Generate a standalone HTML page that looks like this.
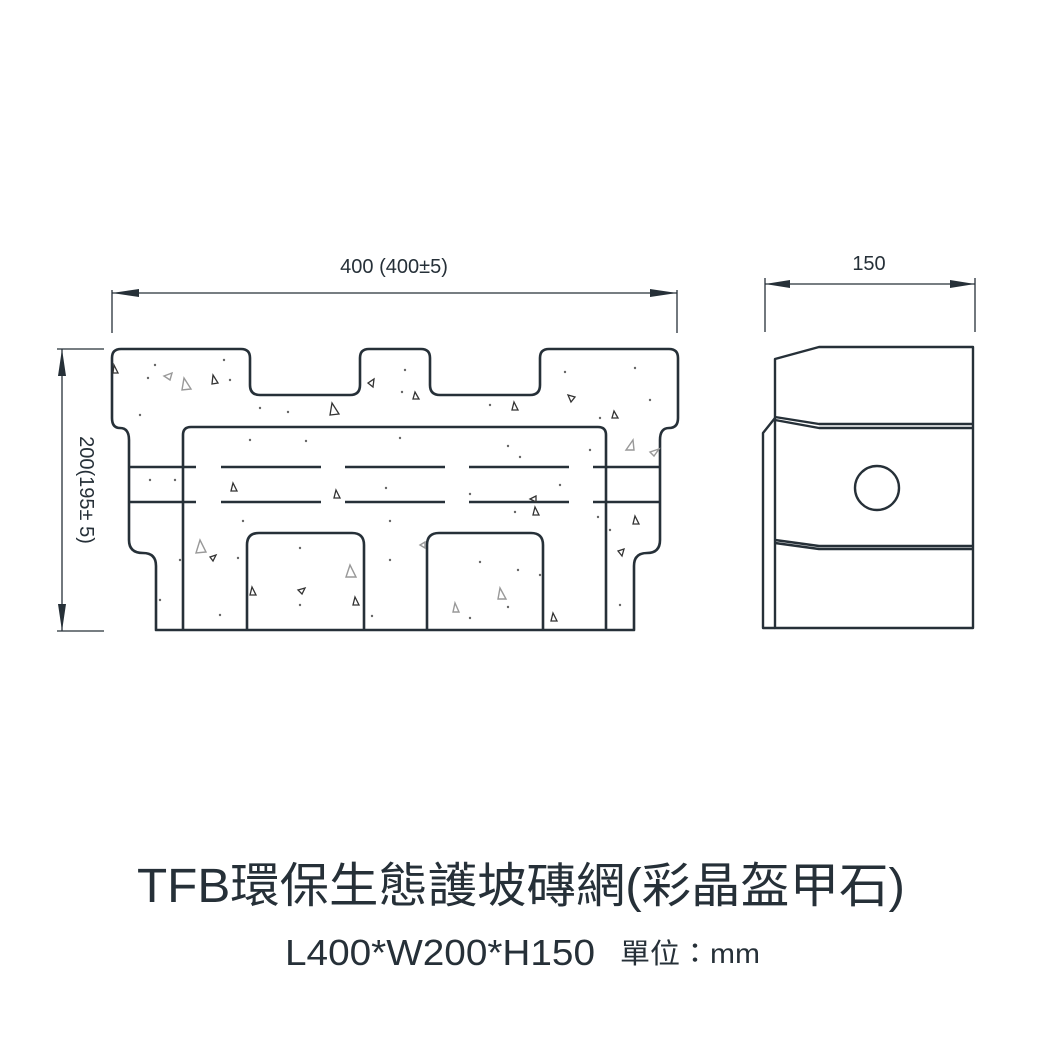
<!DOCTYPE html>
<html><head><meta charset="utf-8"><style>
html,body{margin:0;padding:0;background:#fff;}
svg{display:block}
</style></head><body>
<svg width="1042" height="1042" viewBox="0 0 1042 1042" xmlns="http://www.w3.org/2000/svg">
<g stroke="#263038" fill="none">
<line x1="112" y1="290" x2="112" y2="333" stroke-width="1.3"/>
<line x1="677" y1="290" x2="677" y2="333" stroke-width="1.3"/>
<line x1="112" y1="293" x2="677" y2="293" stroke-width="1.3"/>
<line x1="765" y1="278" x2="765" y2="332" stroke-width="1.3"/>
<line x1="975" y1="278" x2="975" y2="332" stroke-width="1.3"/>
<line x1="765" y1="284" x2="975" y2="284" stroke-width="1.3"/>
<line x1="57" y1="349" x2="104" y2="349" stroke-width="1.3"/>
<line x1="57" y1="631" x2="104" y2="631" stroke-width="1.3"/>
<line x1="62" y1="349" x2="62" y2="631" stroke-width="1.3"/>
</g>
<g fill="#263038">
<polygon points="112,293 139,289 139,297"/>
<polygon points="677,293 650,289 650,297"/>
<polygon points="765,284 790,280 790,288"/>
<polygon points="975,284 950,280 950,288"/>
<polygon points="62,349 58,376 66,376"/>
<polygon points="62,631 58,604 66,604"/>
</g>
<g font-family="Liberation Sans, sans-serif" fill="#263038" font-size="20">
<text x="394" y="273" text-anchor="middle">400 (400±5)</text>
<text x="869" y="270" text-anchor="middle">150</text>
<text transform="translate(80,490) rotate(90)" text-anchor="middle">200(195± 5)</text>
</g>
<g stroke="#263038" stroke-width="2.6" fill="none" stroke-linejoin="round">
<path d="M156,630 L156,566 Q156,553 143,553 Q129,553 129,540 L129,440 Q129,428 120,428 Q112,428 112,418 L112,358 Q112,349 121,349 L241,349 Q250,349 250,358 L250,385 Q250,395 260,395 L350,395 Q360,395 360,385 L360,358 Q360,349 369,349 L421,349 Q430,349 430,358 L430,385 Q430,395 440,395 L530,395 Q540,395 540,385 L540,358 Q540,349 549,349 L669,349 Q678,349 678,358 L678,418 Q678,428 669,428 Q660,428 660,440 L660,540 Q660,553 647,553 Q634,553 634,566 L634,630 Z"/>
<path d="M183,630 L183,435 Q183,427 191,427 L598,427 Q606,427 606,435 L606,630"/>
<path d="M247,630 L247,545 Q247,533 259,533 L352,533 Q364,533 364,545 L364,630"/>
<path d="M427,630 L427,545 Q427,533 439,533 L531,533 Q543,533 543,545 L543,630"/>
</g>
<g stroke="#263038" stroke-width="2.4">
<line x1="129" y1="467" x2="196" y2="467"/><line x1="221" y1="467" x2="321" y2="467"/><line x1="345" y1="467" x2="445" y2="467"/><line x1="469" y1="467" x2="569" y2="467"/><line x1="593" y1="467" x2="660" y2="467"/>
<line x1="129" y1="502" x2="196" y2="502"/><line x1="221" y1="502" x2="321" y2="502"/><line x1="345" y1="502" x2="445" y2="502"/><line x1="469" y1="502" x2="569" y2="502"/><line x1="593" y1="502" x2="660" y2="502"/>
</g>
<g fill="#666">
<circle cx="155" cy="365" r="1.2"/><circle cx="148" cy="378" r="1.2"/><circle cx="230" cy="380" r="1.2"/><circle cx="140" cy="415" r="1.2"/><circle cx="224" cy="360" r="1.2"/><circle cx="260" cy="408" r="1.2"/><circle cx="288" cy="412" r="1.2"/><circle cx="405" cy="370" r="1.2"/><circle cx="402" cy="392" r="1.2"/><circle cx="490" cy="405" r="1.2"/><circle cx="565" cy="372" r="1.2"/><circle cx="635" cy="368" r="1.2"/><circle cx="650" cy="400" r="1.2"/><circle cx="600" cy="418" r="1.2"/><circle cx="250" cy="440" r="1.2"/><circle cx="306" cy="441" r="1.2"/><circle cx="400" cy="438" r="1.2"/><circle cx="508" cy="446" r="1.2"/><circle cx="520" cy="457" r="1.2"/><circle cx="150" cy="480" r="1.2"/><circle cx="175" cy="480" r="1.2"/><circle cx="386" cy="488" r="1.2"/><circle cx="470" cy="494" r="1.2"/><circle cx="515" cy="512" r="1.2"/><circle cx="243" cy="521" r="1.2"/><circle cx="390" cy="521" r="1.2"/><circle cx="598" cy="517" r="1.2"/><circle cx="610" cy="530" r="1.2"/><circle cx="180" cy="560" r="1.2"/><circle cx="238" cy="558" r="1.2"/><circle cx="300" cy="548" r="1.2"/><circle cx="390" cy="560" r="1.2"/><circle cx="480" cy="562" r="1.2"/><circle cx="518" cy="570" r="1.2"/><circle cx="540" cy="575" r="1.2"/><circle cx="160" cy="600" r="1.2"/><circle cx="300" cy="605" r="1.2"/><circle cx="372" cy="616" r="1.2"/><circle cx="470" cy="618" r="1.2"/><circle cx="508" cy="607" r="1.2"/><circle cx="620" cy="605" r="1.2"/><circle cx="220" cy="615" r="1.2"/><circle cx="590" cy="450" r="1.2"/><circle cx="560" cy="485" r="1.2"/>
</g>
<g fill="none" stroke="#333" stroke-width="1.3">
<path d="M114,365 l4,8 l-5,0z"/><path d="M213,375 l5,8 l-6,1z"/><path d="M332,403 l7,11 l-9,1z"/><path d="M368,383 l6,-4 l-1,8z"/><path d="M415,392 l4,7 l-6,0z"/><path d="M514,402 l4,8 l-6,0z"/><path d="M568,395 l7,2 l-4,5z"/><path d="M614,411 l4,7 l-6,0z"/><path d="M233,483 l4,8 l-6,0z"/><path d="M336,490 l4,8 l-6,0z"/><path d="M536,496 l-6,3 l6,3z"/><path d="M535,507 l4,8 l-6,0z"/><path d="M635,516 l4,8 l-6,0z"/><path d="M210,557 l6,-2 l-3,6z"/><path d="M252,587 l4,8 l-6,0z"/><path d="M298,590 l7,-2 l-3,6z"/><path d="M355,597 l4,8 l-6,0z"/><path d="M553,613 l4,8 l-6,0z"/><path d="M618,551 l6,-2 l-2,7z"/>
</g>
<g fill="none" stroke="#999" stroke-width="1.4">
<path d="M184,378 l7,11 l-9,1z"/><path d="M164,376 l8,-3 l-2,7z"/><path d="M200,540 l6,12 l-10,1z"/><path d="M350,565 l6,12 l-10,0z"/><path d="M626,450 l8,0 l-1,-10z"/><path d="M650,452 l9,-3 l-5,7z"/><path d="M420,545 l5,-3 l0,6z"/><path d="M500,588 l6,11 l-8,0z"/><path d="M455,603 l4,9 l-6,0z"/>
</g>
<g stroke="#263038" stroke-width="2.4" fill="none" stroke-linejoin="round">
<path d="M775,628 L775,359 L819,347 L973,347 L973,628 Z"/>
<path d="M775,418 L763,433 L763,628 L775,628"/>
<path d="M775,417 L819,424 L973,424"/>
<path d="M775,420 L819,428 L973,428"/>
<path d="M775,540 L819,546 L973,546"/>
<path d="M775,543 L819,549 L973,549"/>
<circle cx="877" cy="488" r="22"/>
</g>
<g font-family="Liberation Sans, 'Noto Sans CJK TC', sans-serif" fill="#263038">
<text x="521" y="902" font-size="48" text-anchor="middle" textLength="768" lengthAdjust="spacingAndGlyphs">TFB環保生態護坡磚網(彩晶盔甲石)</text>
<text x="285" y="965" font-size="36" textLength="310" lengthAdjust="spacingAndGlyphs">L400*W200*H150</text>
<text x="620" y="963" font-size="28" textLength="140" lengthAdjust="spacingAndGlyphs">單位：mm</text>
</g>
</svg>
</body></html>
